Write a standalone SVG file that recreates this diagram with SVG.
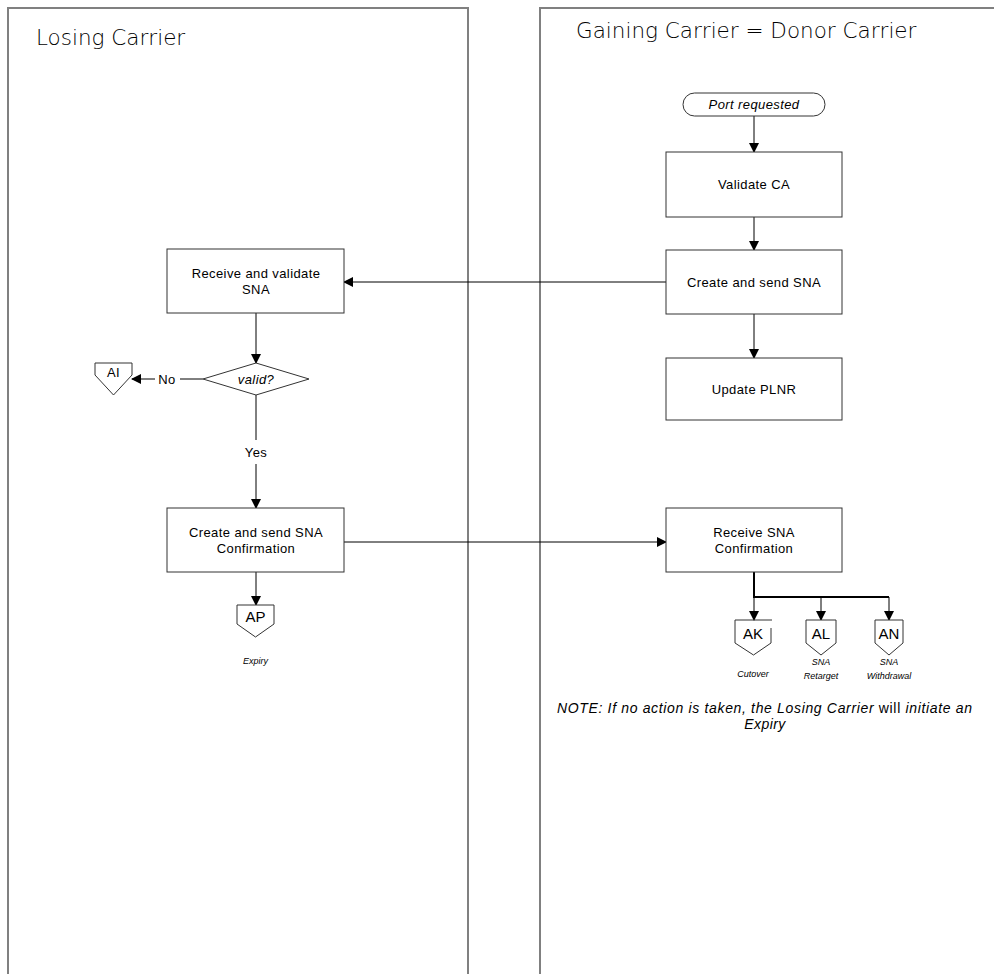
<svg xmlns="http://www.w3.org/2000/svg" width="994" height="974" viewBox="0 0 994 974">
<style>
text{font-family:"Liberation Sans",Arial,sans-serif;fill:#000}
.lane{fill:none;stroke:#808080;stroke-width:2}
.title{font-size:21.5px;font-family:"DejaVu Sans","Liberation Sans",sans-serif;font-weight:300}
.box{fill:#fff;stroke:#333;stroke-width:1}
.t{font-size:13px;text-anchor:middle;letter-spacing:0.4px}
.it{font-style:italic}
.s{font-size:9px;text-anchor:middle;font-style:italic}
.c{fill:none;stroke:#000;stroke-width:1}
</style>
<defs>
<marker id="ah" markerWidth="10" markerHeight="10" refX="9" refY="5" orient="auto" markerUnits="userSpaceOnUse">
<path d="M0,0 L10,5 L0,10 z" fill="#000"/>
</marker>
</defs>
<rect width="994" height="974" fill="#fff"/>
<g id="lane-losing">
<path class="lane" d="M8,974 V8 H468 V974"/>
<text class="title" x="36" y="45">Losing Carrier</text>
</g>
<g id="lane-gaining">
<path class="lane" d="M540,974 V8 H994"/>
<text class="title" x="576" y="38">Gaining Carrier = Donor Carrier</text>
</g>
<g id="connectors">
<line class="c" x1="754" y1="116" x2="754" y2="152" marker-end="url(#ah)"/>
<line class="c" x1="754" y1="217" x2="754" y2="250" marker-end="url(#ah)"/>
<line class="c" x1="754" y1="314" x2="754" y2="358" marker-end="url(#ah)"/>
<line class="c" x1="666" y1="282" x2="344" y2="282" marker-end="url(#ah)"/>
<line class="c" x1="256" y1="313" x2="256" y2="363" marker-end="url(#ah)"/>
<line class="c" x1="203" y1="379" x2="180" y2="379"/>
<line class="c" x1="155" y1="379" x2="132" y2="379" marker-end="url(#ah)"/>
<text class="t" x="167" y="384">No</text>
<line class="c" x1="256" y1="395" x2="256" y2="440"/>
<text class="t" x="256" y="457">Yes</text>
<line class="c" x1="256" y1="464" x2="256" y2="508" marker-end="url(#ah)"/>
<line class="c" x1="344" y1="542" x2="666" y2="542" marker-end="url(#ah)"/>
<line class="c" x1="256" y1="572" x2="256" y2="605" marker-end="url(#ah)"/>
<path d="M754,572 V597 H889" fill="none" stroke="#000" stroke-width="2"/>
<line class="c" x1="754" y1="597" x2="754" y2="620" marker-end="url(#ah)"/>
<line class="c" x1="821" y1="597" x2="821" y2="620" marker-end="url(#ah)"/>
<line class="c" x1="889" y1="597" x2="889" y2="620" marker-end="url(#ah)"/>
</g>
<g id="port-requested">
<rect class="box" x="683" y="93" width="142" height="23" rx="11.5"/>
<text class="t it" x="754" y="109">Port requested</text>
</g>
<g id="validate-ca">
<rect class="box" x="666" y="152" width="176" height="65"/>
<text class="t" x="754" y="189">Validate CA</text>
</g>
<g id="create-send-sna">
<rect class="box" x="666" y="250" width="176" height="64"/>
<text class="t" x="754" y="287">Create and send SNA</text>
</g>
<g id="update-plnr">
<rect class="box" x="666" y="358" width="176" height="62"/>
<text class="t" x="754" y="394">Update PLNR</text>
</g>
<g id="receive-validate-sna">
<rect class="box" x="167" y="249" width="177" height="64"/>
<text class="t" x="256" y="278">Receive and validate</text>
<text class="t" x="256" y="294">SNA</text>
</g>
<g id="valid-decision">
<path class="box" d="M203,379 L256,363 L309,379 L256,395 z"/>
<text class="t it" x="256" y="384">valid?</text>
</g>
<g id="conn-ai">
<path class="box" d="M95,363 H132 V375 L113.5,395 L95,375 z"/>
<text class="t" x="113.5" y="377">AI</text>
</g>
<g id="create-send-confirmation">
<rect class="box" x="167" y="508" width="177" height="64"/>
<text class="t" x="256" y="537">Create and send SNA</text>
<text class="t" x="256" y="553">Confirmation</text>
</g>
<g id="conn-ap">
<path class="box" d="M237,605 H274 V624 L255.5,637 L237,624 z"/>
<text class="t" x="255.5" y="622" style="font-size:15px;letter-spacing:0">AP</text>
<text class="s" x="255.5" y="664">Expiry</text>
</g>
<g id="receive-confirmation">
<rect class="box" x="666" y="508" width="176" height="64"/>
<text class="t" x="754" y="537">Receive SNA</text>
<text class="t" x="754" y="553">Confirmation</text>
</g>
<g id="conn-ak">
<path class="box" d="M735,620 H772 M735,620 V643 L753.5,655 L771,643 V628"/>
<text class="t" x="753" y="639" style="font-size:15px;letter-spacing:0">AK</text>
<text class="s" x="753" y="677">Cutover</text>
</g>
<g id="conn-al">
<path class="box" d="M806,620 H836 V643 L821,655 L806,643 z"/>
<text class="t" x="821" y="639" style="font-size:15px;letter-spacing:0">AL</text>
<text class="s" x="821" y="665">SNA</text>
<text class="s" x="821" y="679">Retarget</text>
</g>
<g id="conn-an">
<path class="box" d="M875,620 H903 V643 L889,655 L875,643 z"/>
<text class="t" x="889" y="639" style="font-size:15px;letter-spacing:0">AN</text>
<text class="s" x="889" y="665">SNA</text>
<text class="s" x="889" y="679">Withdrawal</text>
</g>
<g id="note">
<text class="it" x="557" y="713" font-size="14" textLength="415" lengthAdjust="spacing">NOTE: If no action is taken, the Losing Carrier <tspan font-style="normal">will</tspan> initiate an</text>
<text class="t it" x="765" y="729" style="font-size:14px">Expiry</text>
</g>
</svg>
